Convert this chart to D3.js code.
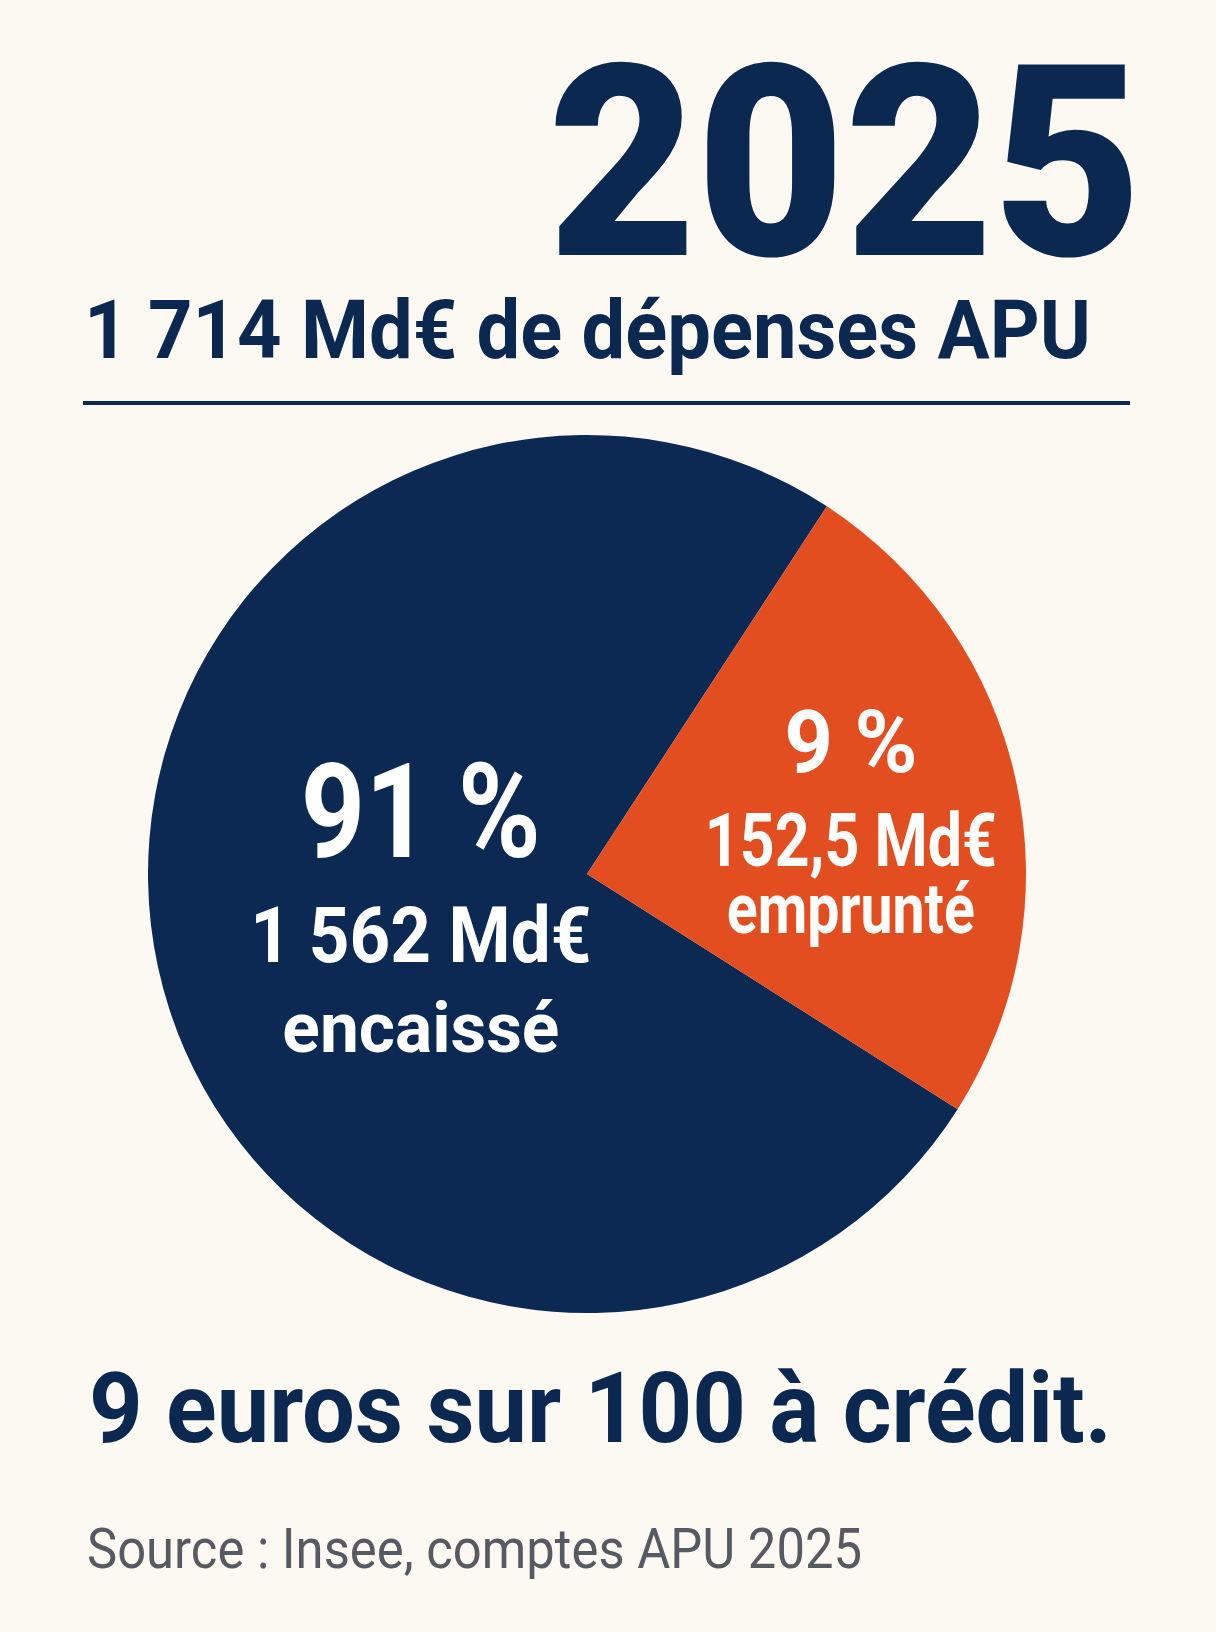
<!DOCTYPE html>
<html lang="fr">
<head>
<meta charset="utf-8">
<title>2025 – dépenses APU</title>
<script src="https://cdn.jsdelivr.net/npm/d3@7"></script>
<style>
	html, body { margin: 0; padding: 0; background: #fcf9f3; }
	svg { display: block; font-family: Roboto, 'Liberation Sans', Arial, sans-serif; }
</style>
</head>
<body>
<div data-chart></div>
<script>
const year = '2025'
const totalSpending = 1714
const categories = ['encaissé', 'emprunté']
const sharePct = [91, 9]
const amounts = [1562, 152.5]
// slice sizes as drawn in the picture (share of the full turn, %)
const drawnShares = [75.2, 24.8]
const conclusion = '9 euros sur 100 à crédit.'
const source = 'Source : Insee, comptes APU 2025'

const dimensions = {
	width: 1216,
	height: 1632,
	cx: 587,
	cy: 874,
	radius: 439
}

const navy = '#0b2850'
const sliceColors = ['#0b2952', '#e24e1f']

const fr = d3.formatLocale({ decimal: ',', thousands: '\u00a0', grouping: [3], currency: ['', ''] })
const formatAmount = fr.format(',')

const svg = d3.select('[data-chart]')
	.append('svg')
	.attr('width', dimensions.width)
	.attr('height', dimensions.height)
	.attr('viewBox', `0 0 ${dimensions.width} ${dimensions.height}`)

svg.append('rect')
	.attr('width', dimensions.width)
	.attr('height', dimensions.height)
	.attr('fill', '#fcf9f3')

const addText = (parent, str, o) => parent
	.append('text')
	.attr('x', o.x)
	.attr('y', o.y)
	.attr('text-anchor', o.anchor || 'start')
	.attr('font-size', o.size)
	.attr('font-weight', o.weight || 700)
	.attr('fill', o.fill || navy)
	.attr('textLength', o.length)
	.attr('lengthAdjust', 'spacingAndGlyphs')
	.text(str)

/* Header */
addText(svg, year, { x: 548, y: 255, size: 268, weight: 900, length: 594 })
addText(svg, `${formatAmount(totalSpending)} Md€ de dépenses APU`, { x: 84, y: 358, size: 81, length: 1007 })

svg.append('line')
	.attr('x1', 83)
	.attr('x2', 1130)
	.attr('y1', 403)
	.attr('y2', 403)
	.attr('stroke', navy)
	.attr('stroke-width', 4)

/* Pie */
const start = 122.4 * Math.PI / 180
const pie = d3.pie()
	.sort(null)
	.startAngle(start)
	.endAngle(start + 2 * Math.PI)

const arcs = pie(drawnShares)

const arcGenerator = d3.arc()
	.innerRadius(0)
	.outerRadius(dimensions.radius)

const pieGroup = svg.append('g')
	.attr('transform', `translate(${dimensions.cx},${dimensions.cy})`)

pieGroup.selectAll('path')
	.data(arcs)
	.join('path')
	.attr('d', arcGenerator)
	.attr('fill', (d, i) => sliceColors[i])

/* Labels */
const labelRadius = [170, 270]
const labelLines = [
	[
		{ text: `${sharePct[0]} %`, dy: -53, size: 132, length: 240 },
		{ text: `${formatAmount(amounts[0])} Md€`, dy: 52, size: 77, length: 341 },
		{ text: categories[0], dy: 142, size: 71, length: 277 }
	],
	[
		{ text: `${sharePct[1]} %`, dy: -45, size: 88, length: 133 },
		{ text: `${formatAmount(amounts[1])} Md€`, dy: 49, size: 75, length: 292 },
		{ text: categories[1], dy: 116, size: 71, length: 248 }
	]
]

arcs.forEach((d, i) => {
	const [x, y] = d3.arc()
		.innerRadius(labelRadius[i])
		.outerRadius(labelRadius[i])
		.centroid(d)
	labelLines[i].forEach((line) => {
		addText(pieGroup, line.text, {
			x,
			y: y + line.dy,
			anchor: 'middle',
			size: line.size,
			length: line.length,
			fill: '#ffffff'
		})
	})
})

/* Footer */
addText(svg, conclusion, { x: 89, y: 1442, size: 98, length: 1023 })
addText(svg, source, { x: 87, y: 1568, size: 56, weight: 400, fill: '#575b61', length: 775 })
</script>
</body>
</html>
